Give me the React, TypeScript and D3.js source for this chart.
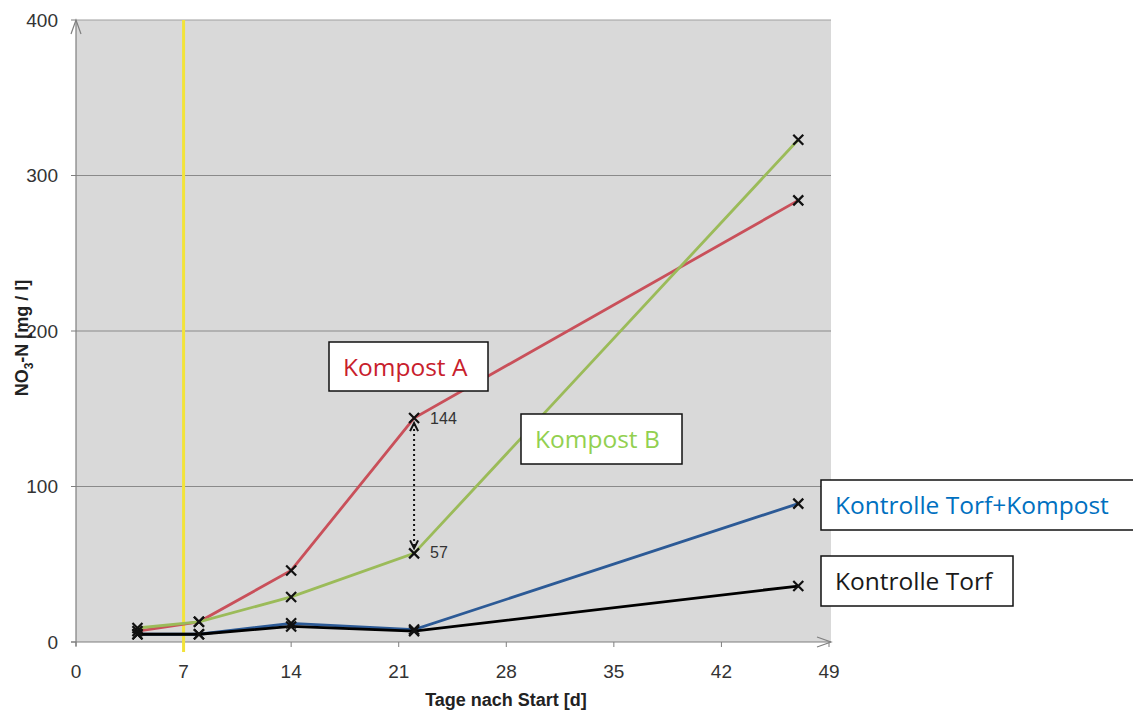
import React from "react";
import * as d3 from "d3";

const days = [4, 8, 14, 22, 47];
const kompostA = [7, 13, 46, 144, 284];
const kompostB = [9, 13, 29, 57, 323];
const kontrolleTK = [5, 5, 12, 8, 89];
const kontrolleT = [5, 5, 10, 7, 36];
const xTicks = [0, 7, 14, 21, 28, 35, 42, 49];
const yTicks = [0, 100, 200, 300, 400];
const markDay = 7;
const diffDay = 22;
const diffTop = 144;
const diffBottom = 57;

const series = [
  { name: "Kompost A", values: kompostA, color: "#c9505a" },
  { name: "Kompost B", values: kompostB, color: "#9bbb59" },
  { name: "Kontrolle Torf+Kompost", values: kontrolleTK, color: "#2c5a96" },
  { name: "Kontrolle Torf", values: kontrolleT, color: "#000000" },
];

const labels = [
  { text: "Kompost A", color: "#c8202c", x: 329, y: 342, w: 159, h: 49 },
  { text: "Kompost B", color: "#92d050", x: 521, y: 414, w: 161, h: 50 },
  { text: "Kontrolle Torf+Kompost", color: "#0070c0", x: 821, y: 480, w: 330, h: 50 },
  { text: "Kontrolle Torf", color: "#1a1a1a", x: 821, y: 556, w: 192, h: 50 },
];

export default function App() {
  const W = 1133, H = 711;
  const x = d3.scaleLinear().domain([0, 49]).range([76, 829]);
  const y = d3.scaleLinear().domain([0, 400]).range([642, 20]);
  const line = d3.line<number>().x((_, i) => x(days[i])).y((v) => y(v));
  const font = "'Liberation Sans', Arial, sans-serif";
  const labelFont = "'Open Sans', 'Noto Sans', sans-serif";
  const plotRight = 831;
  const m = 5;
  return (
    <svg width={W} height={H} style={{ position: "absolute", left: 0, top: 0, background: "#fff" }}>
      <rect x={x(0)} y={y(400)} width={plotRight - x(0)} height={y(0) - y(400)} fill="#d9d9d9" />
      {yTicks.slice(1).map((t) => (
        <line key={t} x1={x(0)} x2={plotRight} y1={y(t)} y2={y(t)} stroke={t === 400 ? "#a0a0a0" : "#8a8a8a"} strokeWidth={1.2} />
      ))}
      {/* axes */}
      <line x1={x(0)} x2={x(0)} y1={y(0) + 4} y2={y(400)} stroke="#7f7f7f" strokeWidth={1.2} />
      <line x1={x(0) - 5} x2={plotRight} y1={y(0)} y2={y(0)} stroke="#7f7f7f" strokeWidth={1.2} />
      <path d={`M${x(0) - 5},${y(400) + 14} L${x(0)},${y(400)} L${x(0) + 5},${y(400) + 14}`} fill="none" stroke="#7f7f7f" strokeWidth={1.2} />
      <path d={`M${plotRight - 14},${y(0) - 5} L${plotRight},${y(0)} L${plotRight - 14},${y(0) + 5}`} fill="none" stroke="#7f7f7f" strokeWidth={1.2} />
      {yTicks.map((t) => (
        <g key={t}>
          <line x1={x(0) - 5} x2={x(0)} y1={y(t)} y2={y(t)} stroke="#7f7f7f" />
          <text x={58} y={y(t)} dy="0.35em" textAnchor="end" fontFamily={font} fontSize={19} fill="#333">{t}</text>
        </g>
      ))}
      {xTicks.map((t) => (
        <g key={t}>
          <line x1={x(t)} x2={x(t)} y1={y(0)} y2={y(0) + 5} stroke="#7f7f7f" />
          <text x={x(t)} y={678} textAnchor="middle" fontFamily={font} fontSize={19} fill="#333">{t}</text>
        </g>
      ))}
      {/* yellow marker line */}
      <line x1={x(markDay)} x2={x(markDay)} y1={y(400)} y2={y(0) + 10} stroke="#f2e33a" strokeWidth={3} />
      {/* series */}
      {series.map((s) => (
        <path key={s.name} d={line(s.values) || ""} fill="none" stroke={s.color} strokeWidth={2.8} />
      ))}
      {series.map((s) =>
        s.values.map((v, i) => (
          <path key={s.name + i} d={`M${x(days[i]) - m},${y(v) - m}L${x(days[i]) + m},${y(v) + m}M${x(days[i]) - m},${y(v) + m}L${x(days[i]) + m},${y(v) - m}`} stroke="#111" strokeWidth={2.2} />
        ))
      )}
      {/* difference arrow */}
      <line x1={x(diffDay)} x2={x(diffDay)} y1={y(diffTop) + 6} y2={y(diffBottom) - 6} stroke="#111" strokeWidth={2} strokeDasharray="2,3" />
      <path d={`M${x(diffDay) - 4},${y(diffTop) + 13} L${x(diffDay)},${y(diffTop) + 5} L${x(diffDay) + 4},${y(diffTop) + 13}`} fill="none" stroke="#111" strokeWidth={2} />
      <path d={`M${x(diffDay) - 4},${y(diffBottom) - 13} L${x(diffDay)},${y(diffBottom) - 5} L${x(diffDay) + 4},${y(diffBottom) - 13}`} fill="none" stroke="#111" strokeWidth={2} />
      <text x={x(diffDay) + 16} y={y(diffTop)} dy="0.35em" fontFamily={font} fontSize={16} fill="#333">{diffTop}</text>
      <text x={x(diffDay) + 16} y={y(diffBottom) - 1} dy="0.35em" fontFamily={font} fontSize={16} fill="#333">{diffBottom}</text>
      {/* axis titles */}
      <text x={506} y={706} textAnchor="middle" fontFamily={font} fontSize={18} fontWeight="bold" fill="#222">Tage nach Start [d]</text>
      <text transform="translate(28,338) rotate(-90)" textAnchor="middle" fontFamily={font} fontSize={18} fontWeight="bold" fill="#222">
        NO<tspan fontSize={12} dy={5}>3</tspan><tspan dy={-5}>-N [mg / l]</tspan>
      </text>
      {/* labels */}
      {labels.map((l) => (
        <g key={l.text}>
          <rect x={l.x} y={l.y} width={l.w} height={l.h} fill="#fff" stroke="#111" strokeWidth={1.5} />
          <text x={l.x + 14} y={l.y + 34} fontFamily={labelFont} fontSize={24.5} fill={l.color}>{l.text}</text>
        </g>
      ))}
    </svg>
  );
}
